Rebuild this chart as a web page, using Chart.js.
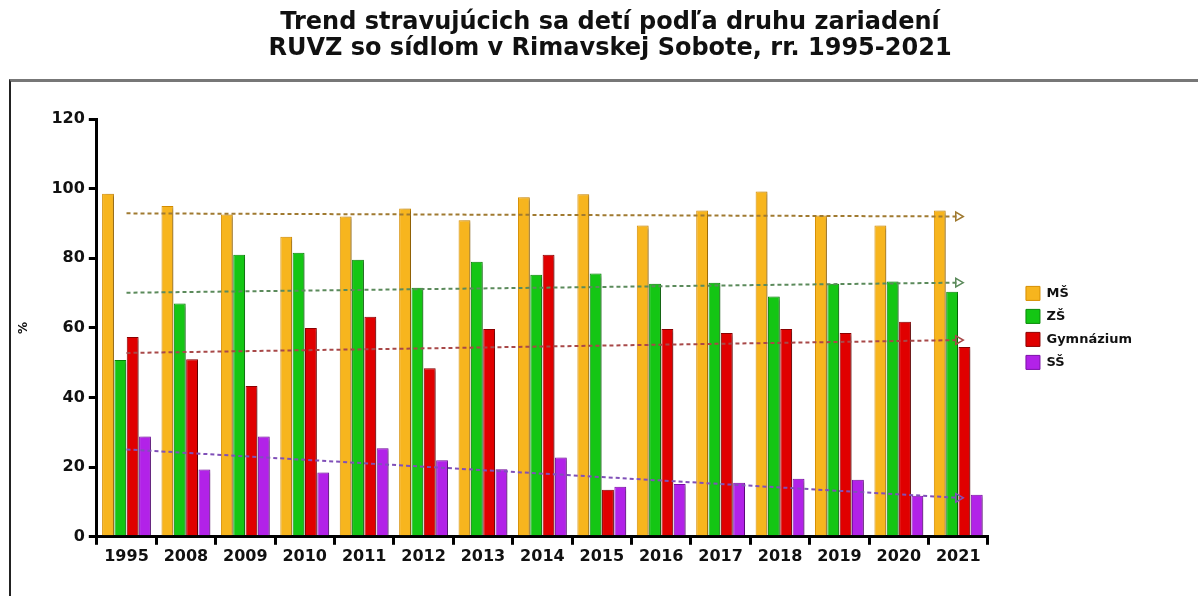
<!DOCTYPE html>
<html>
<head>
<meta charset="utf-8">
<script src="https://cdn.jsdelivr.net/npm/chart.js@4"></script>
<style>
  html, body { margin: 0; padding: 0; background: #fff; }
  #wrap { position: relative; width: 1198px; height: 596px; overflow: hidden; }
  #frame {
    position: absolute; left: 9px; top: 79px; width: 1300px; height: 700px;
    border-top: 3px solid #777; border-left: 2px solid #222;
  }
  #title {
    position: absolute; left: 10px; top: 8px; width: 1200px; text-align: center;
    font: bold 24px 'DejaVu Sans', 'Liberation Sans', sans-serif; line-height: 26px;
    color: #111; white-space: nowrap;
  }
  canvas { position: absolute; left: 0; top: 0; }
</style>
</head>
<body>
<div id="wrap">
  <div id="frame"></div>
  <canvas id="chart" width="1198" height="596"></canvas>
  <div id="title">Trend stravujúcich sa detí podľa druhu zariadení<br>RUVZ so sídlom v Rimavskej Sobote, rr. 1995-2021</div>
</div>
<script>
// --- data ---
const years = ["1995", "2008", "2009", "2010", "2011", "2012", "2013", "2014",
  "2015", "2016", "2017", "2018", "2019", "2020", "2021"];
const ms = [98.5, 95, 92.6, 86.2, 92, 94.3, 90.9, 97.5, 98.4, 89.4, 93.7, 99.2, 92.3, 89.4, 93.7];
const zs = [50.8, 67, 81, 81.6, 79.6, 71.5, 79, 75.3, 75.6, 72.7, 73, 69, 72.7, 73.3, 70.4];
const gym = [57.4, 51, 43.3, 60, 63.2, 48.4, 59.7, 81, 13.5, 59.7, 58.5, 59.7, 58.5, 61.8, 54.5];
const ss = [28.8, 19.3, 28.8, 18.5, 25.4, 22, 19.4, 22.8, 14.4, 15.2, 15.5, 16.7, 16.4, 11.8, 12.1];
// trend lines: value at first and at last year
const trendStart = [92.9, 70.1, 52.8, 25.1];
const trendEnd = [92.0, 73.0, 56.5, 11.2];
const yTicks = [0, 20, 40, 60, 80, 100, 120];

const seriesNames = ["MŠ", "ZŠ", "Gymnázium", "SŠ"];
const fills = ["#f7b51e", "#14c614", "#e00000", "#b222e8"];
const edges = ["#d68e00", "#088a08", "#8e0000", "#7c10a8"];
const trendColors = ["#a07a30", "#5b8a5b", "#a84848", "#8050b8"];

const font = "'DejaVu Sans', 'Liberation Sans', sans-serif";

function trendData(i) {
  return years.map((y, k) => k === 0 ? trendStart[i] : (k === years.length - 1 ? trendEnd[i] : null));
}

const bars = [ms, zs, gym, ss].map((d, i) => ({
  type: "bar",
  label: seriesNames[i],
  data: d,
  backgroundColor: fills[i],
  borderColor: edges[i],
  borderWidth: 1,
  barPercentage: 0.96,
  categoryPercentage: 0.83,
  order: 1
}));

const trends = [0, 1, 2, 3].map((i) => ({
  type: "line",
  label: "trend " + seriesNames[i],
  data: trendData(i),
  spanGaps: true,
  borderColor: trendColors[i],
  borderWidth: 2,
  borderDash: [4, 3],
  fill: false,
  pointStyle: "triangle",
  rotation: 90,
  pointRadius: (c) => c.dataIndex === years.length - 1 ? 5 : 0,
  pointBackgroundColor: "rgba(255,255,255,0)",
  pointBorderColor: trendColors[i],
  pointBorderWidth: 1.5,
  order: 0,
  isTrend: true
}));

// soft shadow behind bars, like the original
const barShadow = {
  id: "barShadow",
  beforeDatasetDraw(chart, args) {
    if (args.meta.type !== "bar") return;
    const ctx = chart.ctx;
    ctx.save();
    ctx.shadowColor = "rgba(0,0,0,0.35)";
    ctx.shadowBlur = 3;
    ctx.shadowOffsetX = 3;
    ctx.shadowOffsetY = 1;
  },
  afterDatasetDraw(chart, args) {
    if (args.meta.type !== "bar") return;
    chart.ctx.restore();
  }
};

new Chart(document.getElementById("chart"), {
  type: "bar",
  data: { labels: years, datasets: [...bars, ...trends] },
  plugins: [barShadow],
  options: {
    responsive: false,
    animation: false,
    layout: { padding: { left: 17, right: 56, top: 119, bottom: 28 } },
    plugins: {
      legend: {
        position: "right",
        fullSize: false,
        labels: {
          filter: (item, data) => !data.datasets[item.datasetIndex].isTrend,
          boxWidth: 14,
          boxHeight: 14,
          padding: 9,
          color: "#111",
          font: { family: font, size: 13, weight: "bold" }
        }
      },
      tooltip: { enabled: false }
    },
    scales: {
      x: {
        border: { display: true, color: "#000", width: 3 },
        grid: { display: true, drawOnChartArea: false, drawTicks: true, tickLength: 8, color: "#000", lineWidth: 3, offset: true },
        ticks: { color: "#111", padding: 2, font: { family: font, size: 16, weight: "bold" } }
      },
      y: {
        min: 0,
        max: 120,
        afterBuildTicks: (axis) => { axis.ticks = yTicks.map((v) => ({ value: v })); },
        border: { display: true, color: "#000", width: 3 },
        grid: { display: true, drawOnChartArea: false, drawTicks: true, tickLength: 8, color: "#000", lineWidth: 3 },
        ticks: { color: "#111", padding: 4, font: { family: font, size: 16, weight: "bold" } },
        title: { display: true, text: "%", color: "#111", padding: { top: 0, bottom: 16 }, font: { family: font, size: 12, weight: "bold" } }
      },
      // empty spacer between plot and legend
      gap: {
        position: "right",
        display: true,
        min: 0,
        max: 1,
        border: { display: false },
        grid: { display: false },
        ticks: { display: false },
        afterFit: (axis) => { axis.width = 29; }
      }
    }
  }
});
</script>
</body>
</html>
